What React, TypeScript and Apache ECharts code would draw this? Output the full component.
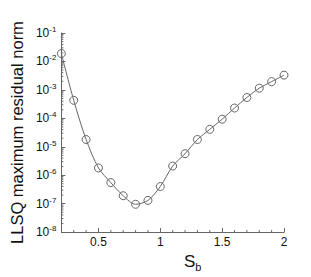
import React, { useEffect, useRef } from "react";
import * as echarts from "echarts";

const sbValues = [0.2, 0.3, 0.4, 0.5, 0.6, 0.7, 0.8, 0.9, 1.0, 1.1, 1.2, 1.3, 1.4, 1.5, 1.6, 1.7, 1.8, 1.9, 2.0];
const residualNorm = [1.9e-2, 4.3e-4, 1.8e-5, 1.8e-6, 5.5e-7, 1.9e-7, 9.5e-8, 1.3e-7, 4.0e-7, 2.1e-6, 5.7e-6, 1.8e-5, 4.1e-5, 9.3e-5, 2.3e-4, 5.4e-4, 1.15e-3, 1.95e-3, 3.3e-3];
const xMinorTicks = [0.3, 0.4, 0.6, 0.7, 0.8, 0.9, 1.1, 1.2, 1.3, 1.4, 1.6, 1.7, 1.8, 1.9];
const yDecades = [-8, -7, -6, -5, -4, -3, -2];
const yMinorMultipliers = [2, 3, 4, 5, 6, 7, 8, 9];

const FONT = "Liberation Sans, Arial, sans-serif";
const AXIS_COLOR = "#666";
const LINE_COLOR = "#666";

export default function App() {
  const ref = useRef<HTMLDivElement>(null);
  useEffect(() => {
    if (!ref.current) return;
    const chart = echarts.init(ref.current, null, { renderer: "svg" });
    const yMinor: number[] = [];
    yDecades.forEach((d) => yMinorMultipliers.forEach((m) => yMinor.push(m * Math.pow(10, d))));
    const minorData: any[] = [];
    xMinorTicks.forEach((v) => minorData.push([v, 0, "x"]));
    yMinor.forEach((v) => minorData.push([0, v, "y"]));

    chart.setOption({
      animation: false,
      grid: { left: 52, right: 27, top: 33, bottom: 31 },
      xAxis: {
        type: "value",
        min: 0.2,
        max: 2,
        splitNumber: 4,
        splitLine: { show: false },
        axisLine: { lineStyle: { color: AXIS_COLOR, width: 1 } },
        axisTick: { inside: true, length: 4, lineStyle: { color: AXIS_COLOR } },
        axisLabel: {
          showMinLabel: false,
          color: "#111",
          fontSize: 12,
          fontFamily: FONT,
          margin: 4,
          formatter: (v: number) => String(v),
        },
        name: "{a|S}{b|b}",
        nameLocation: "middle",
        nameGap: 16,
        nameTextStyle: {
          rich: {
            a: { fontSize: 17, fontFamily: FONT, color: "#111", padding: [0, 0, 0, 40] },
            b: { fontSize: 11, fontFamily: FONT, color: "#111", padding: [10, 0, 0, 0] },
          },
        },
      },
      yAxis: {
        type: "log",
        min: 1e-8,
        max: 1e-1,
        logBase: 10,
        splitLine: { show: false },
        axisLine: { show: true, lineStyle: { color: AXIS_COLOR, width: 1 } },
        axisTick: { show: true, inside: true, length: 4, lineStyle: { color: AXIS_COLOR } },
        axisLabel: {
          color: "#111",
          fontSize: 12,
          fontFamily: FONT,
          margin: 5,
          formatter: (v: number) => {
            const e = Math.round(Math.log10(v));
            return "{b|10}{s|" + e + "}";
          },
          rich: {
            b: { fontSize: 12, fontFamily: FONT, color: "#111" },
            s: { fontSize: 8, fontFamily: FONT, color: "#111", padding: [0, 0, 7, 0] },
          },
        },
        name: "LLSQ maximum residual norm",
        nameLocation: "middle",
        nameGap: 21,
        nameRotate: 90,
        nameTextStyle: { fontSize: 16.5, fontFamily: FONT, color: "#111" },
      },
      series: [
        {
          type: "line",
          data: sbValues.map((x, i) => [x, residualNorm[i]]),
          smooth: 0.3,
          symbol: "circle",
          symbolSize: 8,
          showSymbol: true,
          lineStyle: { color: LINE_COLOR, width: 1 },
          itemStyle: { color: "rgba(0,0,0,0)", borderColor: LINE_COLOR, borderWidth: 1 },
          z: 3,
        },
        {
          type: "custom",
          data: minorData,
          silent: true,
          clip: false,
          renderItem: (params: any, api: any) => {
            const kind = api.value(2);
            if (kind === "x") {
              const p = api.coord([api.value(0), 1e-8]);
              return {
                type: "line",
                shape: { x1: p[0], y1: p[1], x2: p[0], y2: p[1] - 2 },
                style: { stroke: AXIS_COLOR, lineWidth: 1 },
              };
            }
            const p = api.coord([0.2, api.value(1)]);
            return {
              type: "line",
              shape: { x1: p[0], y1: p[1], x2: p[0] + 2, y2: p[1] },
              style: { stroke: AXIS_COLOR, lineWidth: 1 },
            };
          },
          z: 2,
        },
      ],
    });
    return () => chart.dispose();
  }, []);
  return (
    <div
      ref={ref}
      style={{ position: "absolute", left: 0, top: 0, width: 311, height: 277 }}
    />
  );
}
